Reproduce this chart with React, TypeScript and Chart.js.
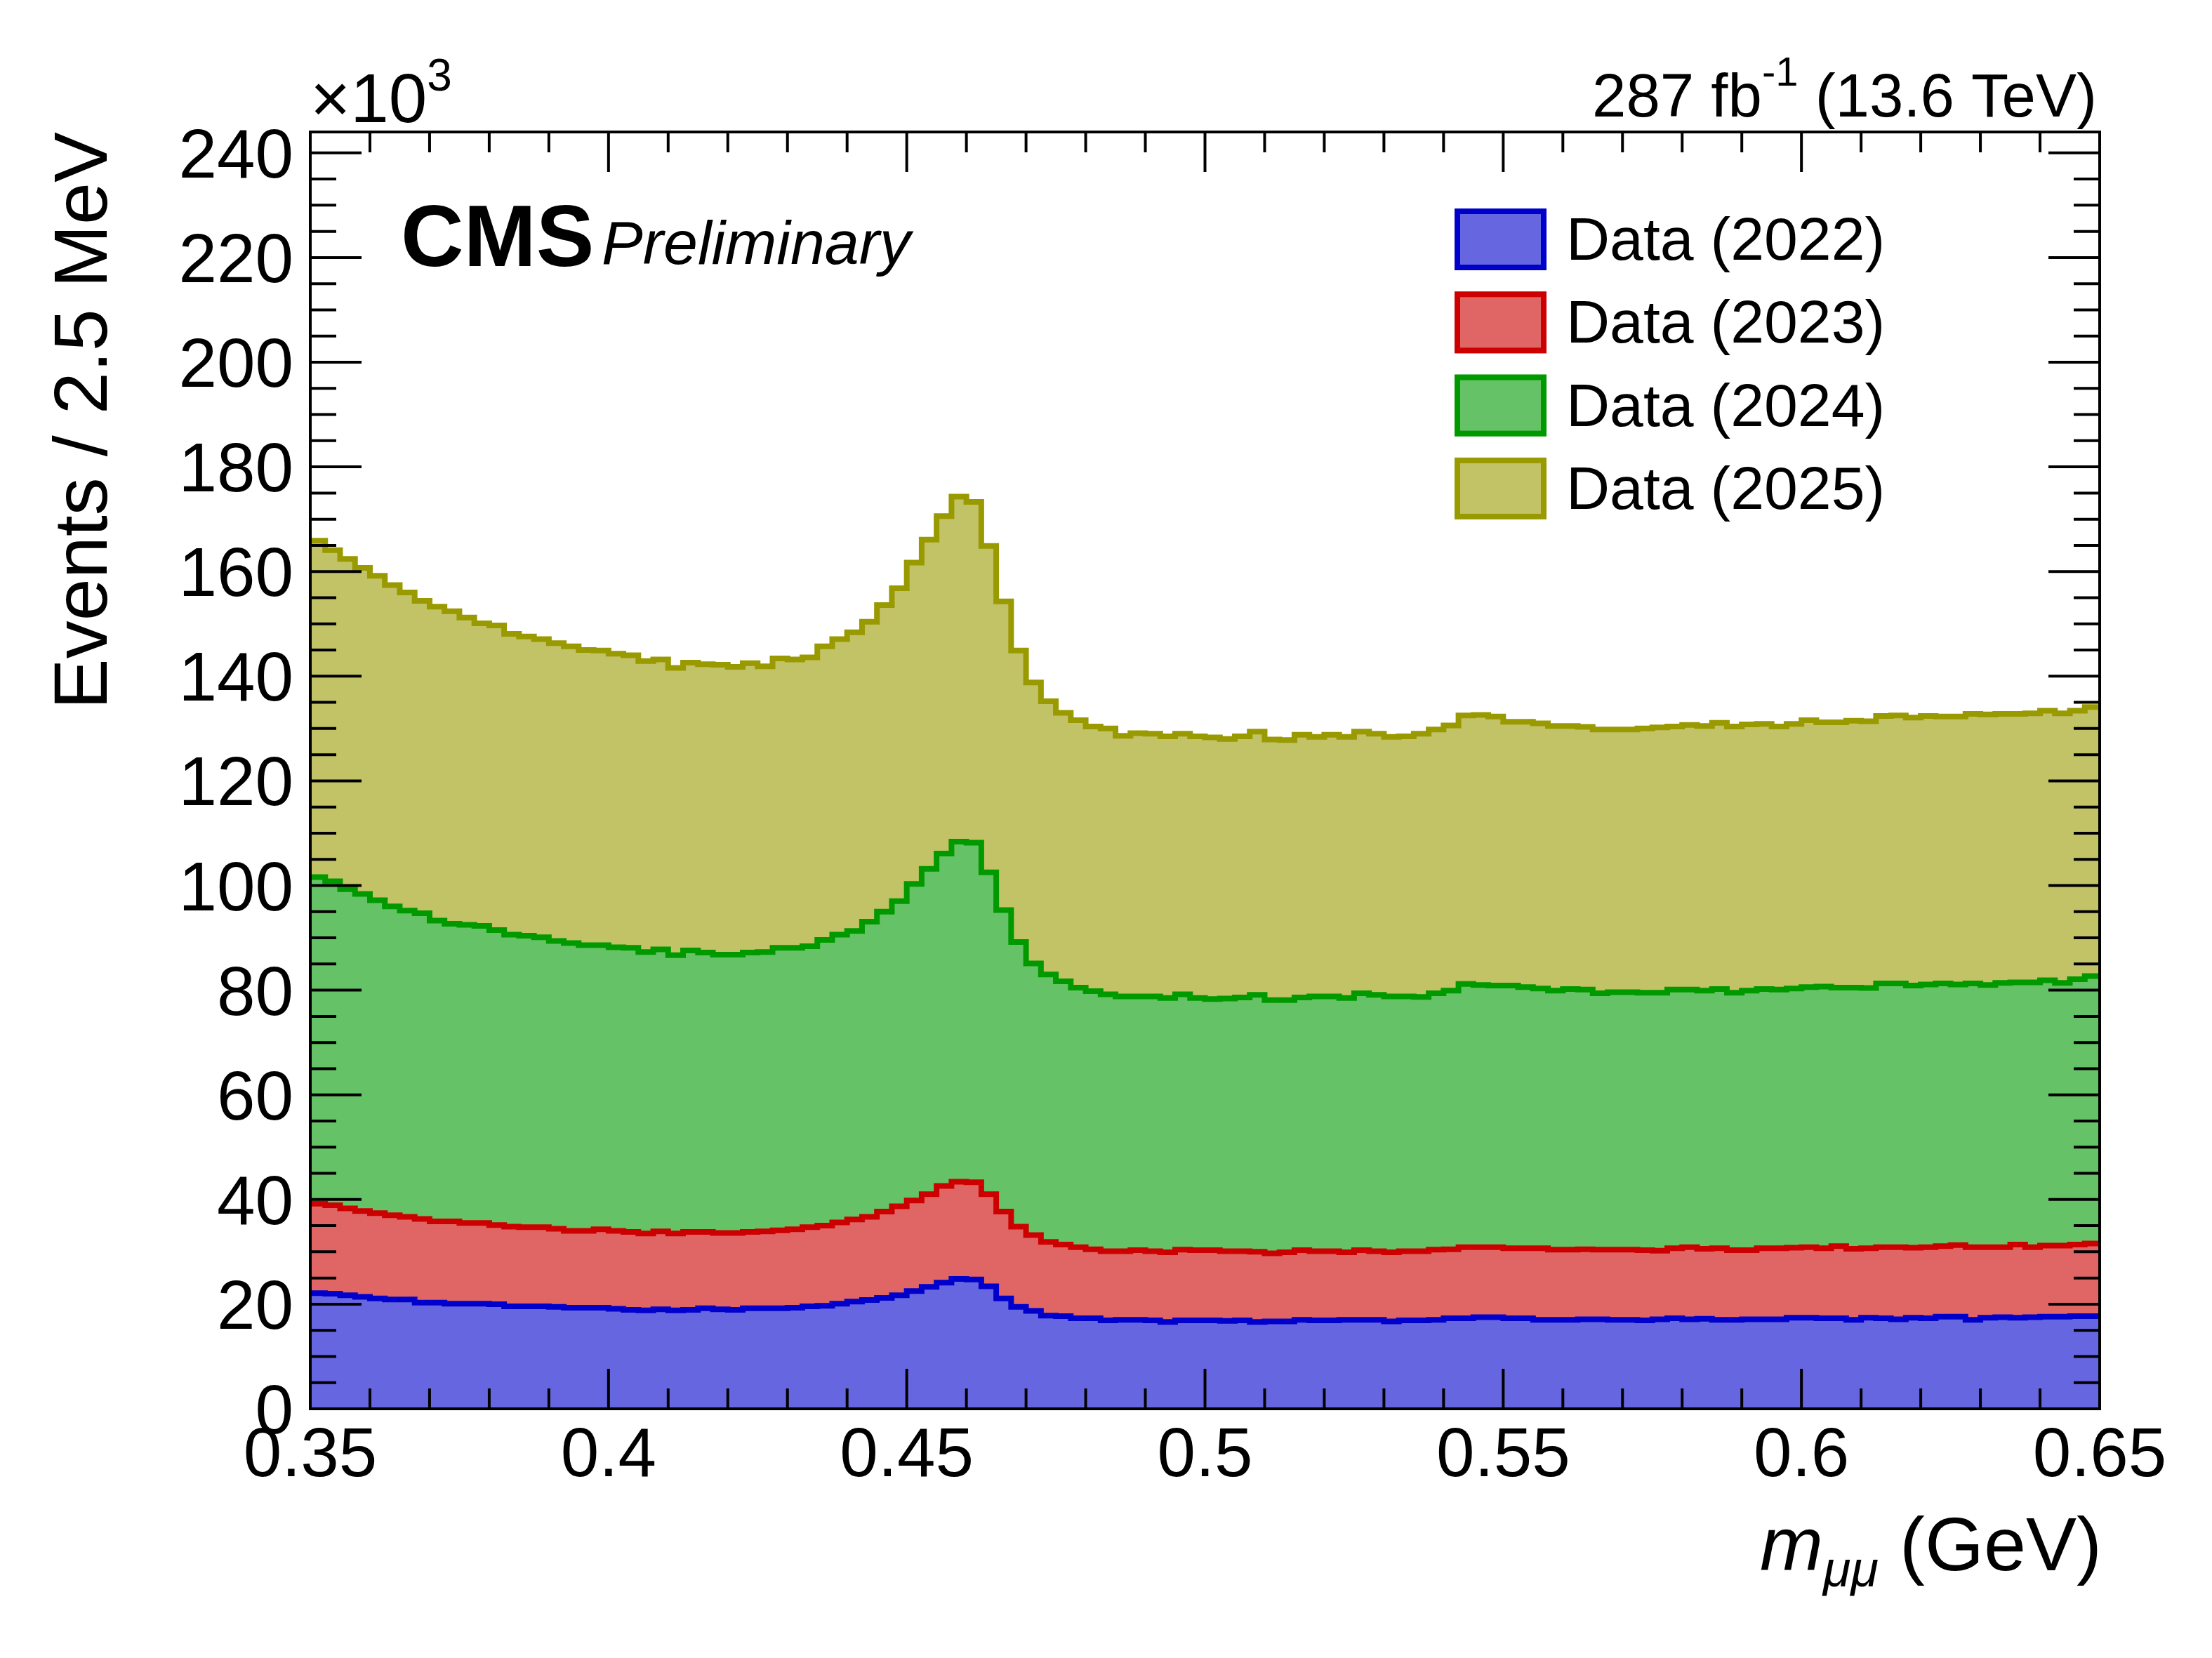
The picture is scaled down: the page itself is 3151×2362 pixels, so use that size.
import React, { useEffect, useRef } from "react";
import { Chart, registerables } from "chart.js";

Chart.register(...registerables);

const WIDTH = 3151;
const HEIGHT = 2362;
const FONT = '"Liberation Sans", Arial, Helvetica, sans-serif';

// Histogram binning: 120 bins of 2.5 MeV from 0.35 to 0.65 GeV (low edges)
const binLowEdges: number[] = Array.from({ length: 120 }, (_, i) => Number((0.35 + i * 0.0025).toFixed(4)));
const histUpperEdge = 0.65;

// Events per bin, in units of 10^3
const data2022: number[] = [
  22.1, 22.0, 21.7, 21.4, 21.1, 20.9, 20.9, 20.3, 20.3, 20.1, 20.1, 20.1, 20.0, 19.6, 19.6, 19.6, 19.5, 19.3, 19.3, 19.3,
  19.1, 18.9, 18.8, 19.0, 18.8, 18.9, 19.2, 19.0, 18.9, 19.2, 19.2, 19.2, 19.3, 19.6, 19.7, 20.1, 20.5, 20.8, 21.2, 21.7,
  22.5, 23.3, 24.1, 24.8, 24.7, 23.4, 21.1, 19.5, 18.7, 17.8, 17.7, 17.3, 17.3, 16.9, 17.0, 17.0, 16.9, 16.6, 16.9, 16.9,
  16.9, 16.8, 16.9, 16.6, 16.7, 16.7, 17.0, 16.9, 16.9, 17.0, 17.0, 17.0, 16.7, 16.9, 16.9, 17.0, 17.3, 17.3, 17.5, 17.5,
  17.3, 17.3, 17.0, 17.0, 17.0, 17.1, 17.1, 17.0, 17.0, 16.9, 17.1, 17.3, 17.1, 17.2, 17.0, 17.0, 17.1, 17.1, 17.1, 17.4,
  17.4, 17.3, 17.3, 17.0, 17.4, 17.3, 17.1, 17.4, 17.3, 17.6, 17.6, 17.0, 17.4, 17.5, 17.4, 17.5, 17.6, 17.6, 17.7, 17.7,
];
const data2023: number[] = [
  17.1, 16.9, 16.6, 16.4, 16.3, 16.1, 15.8, 16.0, 15.5, 15.7, 15.4, 15.4, 15.1, 15.2, 15.1, 15.1, 14.9, 14.7, 14.7, 15.0,
  14.9, 14.9, 14.7, 14.9, 14.7, 14.9, 14.6, 14.6, 14.7, 14.6, 14.7, 14.9, 15.0, 15.1, 15.3, 15.5, 15.7, 15.9, 16.5, 17.0,
  17.3, 17.7, 18.5, 18.6, 18.6, 17.6, 16.6, 15.3, 14.5, 14.1, 13.7, 13.6, 13.2, 13.2, 13.1, 13.3, 13.2, 13.3, 13.5, 13.4,
  13.4, 13.3, 13.2, 13.4, 13.0, 13.2, 13.3, 13.2, 13.2, 12.9, 13.3, 13.1, 13.2, 13.2, 13.2, 13.4, 13.2, 13.6, 13.4, 13.4,
  13.4, 13.4, 13.7, 13.4, 13.4, 13.4, 13.3, 13.4, 13.4, 13.4, 13.1, 13.4, 13.8, 13.4, 13.7, 13.3, 13.2, 13.6, 13.6, 13.4,
  13.5, 13.4, 13.8, 13.6, 13.3, 13.6, 13.8, 13.4, 13.6, 13.5, 13.7, 13.9, 13.5, 13.4, 14.0, 13.4, 13.6, 13.6, 13.7, 13.9,
];
const data2024: number[] = [
  62.4, 61.9, 61.0, 60.6, 59.8, 59.0, 58.5, 58.4, 57.5, 56.9, 57.0, 56.8, 56.4, 55.8, 55.7, 55.4, 55.0, 55.0, 54.6, 54.3,
  54.2, 54.3, 53.8, 53.9, 53.2, 53.8, 53.4, 53.2, 53.2, 53.4, 53.4, 54.0, 53.8, 53.7, 54.6, 55.0, 55.1, 56.4, 57.3, 58.3,
  60.5, 62.2, 63.5, 65.0, 64.9, 61.5, 57.6, 54.4, 51.9, 51.1, 50.3, 49.6, 49.3, 49.1, 48.7, 48.5, 48.7, 48.6, 48.8, 48.2,
  48.0, 48.3, 48.5, 49.1, 48.4, 48.2, 48.3, 48.7, 48.7, 48.6, 49.1, 49.0, 48.9, 48.7, 48.6, 49.0, 49.4, 50.3, 50.1, 50.0,
  50.2, 49.9, 49.6, 49.5, 49.8, 49.6, 49.0, 49.2, 49.2, 49.2, 49.3, 49.4, 49.2, 49.3, 49.5, 49.2, 49.6, 49.5, 49.4, 49.5,
  49.7, 50.0, 49.4, 49.9, 49.7, 50.4, 50.4, 50.1, 50.2, 50.2, 49.8, 50.4, 50.1, 50.5, 50.1, 50.6, 50.7, 50.2, 50.7, 51.1,
];
const data2025: number[] = [
  64.3, 63.3, 63.1, 62.3, 62.0, 61.4, 60.8, 59.7, 60.0, 59.7, 58.7, 57.8, 58.2, 57.5, 57.2, 57.0, 56.9, 56.7, 56.4, 56.3,
  56.1, 55.9, 55.6, 55.4, 54.9, 55.0, 55.1, 55.4, 55.0, 55.3, 54.6, 55.3, 55.1, 55.2, 56.1, 56.5, 57.1, 57.3, 58.6, 59.8,
  61.4, 62.9, 64.5, 65.9, 65.1, 62.4, 59.0, 55.7, 53.7, 52.2, 51.3, 51.1, 50.6, 50.8, 49.8, 50.3, 50.2, 50.0, 49.8, 50.0,
  50.0, 49.6, 49.9, 50.3, 49.8, 49.7, 50.2, 49.6, 50.0, 49.9, 50.0, 49.9, 49.6, 49.7, 50.3, 50.4, 50.7, 51.3, 51.6, 51.4,
  50.4, 50.7, 50.7, 50.6, 50.3, 50.2, 50.4, 50.2, 50.2, 50.5, 50.7, 50.3, 50.6, 50.6, 50.9, 50.9, 50.9, 50.7, 50.3, 50.6,
  51.0, 50.5, 50.7, 51.0, 51.0, 51.1, 51.2, 51.2, 51.3, 51.0, 51.2, 51.5, 51.7, 51.4, 51.3, 51.4, 51.5, 51.5, 51.3, 51.4,
];

const seriesLabels = ["Data (2022)", "Data (2023)", "Data (2024)", "Data (2025)"];
const seriesValues = [data2022, data2023, data2024, data2025];
const lineColors = ["#0000cc", "#cc0000", "#009900", "#999900"];
const fillColors = ["#6666e0", "#e06666", "#66c266", "#c2c266"];

const xMajorTicks = [0.35, 0.4, 0.45, 0.5, 0.55, 0.6, 0.65];
const xTickLabels = ["0.35", "0.4", "0.45", "0.5", "0.55", "0.6", "0.65"];
const yMajorTicks = [0, 20, 40, 60, 80, 100, 120, 140, 160, 180, 200, 220, 240];
const yTickLabels = ["0", "20", "40", "60", "80", "100", "120", "140", "160", "180", "200", "220", "240"];
const xMin = 0.35;
const xMax = 0.65;
const yMin = 0;
const yMax = 244;

function toSteps(values: number[]) {
  const pts = binLowEdges.map((x, i) => ({ x, y: values[i] }));
  pts.push({ x: histUpperEdge, y: values[values.length - 1] });
  return pts;
}

type Run = { text: string; font: string; dy: number };

function drawRuns(ctx: CanvasRenderingContext2D, runs: Run[], x: number, baseline: number, align: "left" | "right") {
  const widths = runs.map((r) => {
    ctx.font = r.font;
    return ctx.measureText(r.text).width;
  });
  const total = widths.reduce((s, w) => s + w, 0);
  let cx = align === "left" ? x : x - total;
  ctx.textAlign = "left";
  ctx.textBaseline = "alphabetic";
  runs.forEach((r, i) => {
    ctx.font = r.font;
    ctx.fillText(r.text, cx, baseline + r.dy);
    cx += widths[i];
  });
}

const rootStylePlugin = {
  id: "rootStyle",
  beforeDraw(chart: any) {
    const { ctx, width, height } = chart;
    ctx.save();
    ctx.fillStyle = "#ffffff";
    ctx.fillRect(0, 0, width, height);
    ctx.restore();
  },
  afterDatasetsDraw(chart: any) {
    const { ctx, chartArea: a, scales } = chart;
    const xs = scales.x;
    const ys = scales.y;
    ctx.save();
    ctx.strokeStyle = "#000";
    ctx.fillStyle = "#000";
    ctx.lineWidth = 4;
    ctx.lineCap = "butt";
    const seg = (x1: number, y1: number, x2: number, y2: number) => {
      ctx.beginPath();
      ctx.moveTo(x1, y1);
      ctx.lineTo(x2, y2);
      ctx.stroke();
    };
    // x ticks (major every 0.05, minor every 0.01), bottom and top, pointing inward
    for (let k = 0; k <= 30; k++) {
      const px = xs.getPixelForValue(xMin + k * 0.01);
      const len = k % 5 === 0 ? 57 : 29;
      seg(px, a.bottom, px, a.bottom - len);
      seg(px, a.top, px, a.top + len);
    }
    // y ticks (major every 20, minor every 5), left and right
    for (let v = yMin; v <= yMax; v += 5) {
      const py = ys.getPixelForValue(v);
      const len = v % 20 === 0 ? 73 : 37;
      seg(a.left, py, a.left + len, py);
      seg(a.right, py, a.right - len, py);
    }
    ctx.strokeRect(a.left, a.top, a.right - a.left, a.bottom - a.top);

    // tick labels
    ctx.font = `98px ${FONT}`;
    ctx.textAlign = "center";
    ctx.textBaseline = "alphabetic";
    xMajorTicks.forEach((v, i) => ctx.fillText(xTickLabels[i], xs.getPixelForValue(v), a.bottom + 96));
    ctx.textAlign = "right";
    yMajorTicks.forEach((v, i) => ctx.fillText(yTickLabels[i], a.left - 24, ys.getPixelForValue(v) + 35));

    // x10^3 exponent
    drawRuns(
      ctx,
      [
        { text: "\u00d710", font: `98px ${FONT}`, dy: 0 },
        { text: "3", font: `64px ${FONT}`, dy: -45 },
      ],
      a.left,
      a.top - 14,
      "left"
    );

    // y axis title
    ctx.save();
    ctx.translate(152, a.top);
    ctx.rotate(-Math.PI / 2);
    ctx.font = `108px ${FONT}`;
    ctx.textAlign = "right";
    ctx.textBaseline = "alphabetic";
    ctx.fillText("Events / 2.5 MeV", 0, 0);
    ctx.restore();

    // x axis title
    drawRuns(
      ctx,
      [
        { text: "m", font: `italic 108px ${FONT}`, dy: 0 },
        { text: "\u03bc\u03bc", font: `italic 72px ${FONT}`, dy: 23 },
        { text: " (GeV)", font: `108px ${FONT}`, dy: 0 },
      ],
      a.right + 3,
      2237,
      "right"
    );

    // luminosity label
    drawRuns(
      ctx,
      [
        { text: "287 fb", font: `87px ${FONT}`, dy: 0 },
        { text: "-1", font: `58px ${FONT}`, dy: -44 },
        { text: " (13.6 TeV)", font: `87px ${FONT}`, dy: 0 },
      ],
      a.right - 4,
      166,
      "right"
    );

    // CMS Preliminary
    ctx.textAlign = "left";
    ctx.font = `bold 124px ${FONT}`;
    ctx.fillText("CMS", 571, 379);
    ctx.font = `italic 88px ${FONT}`;
    ctx.fillText("Preliminary", 857, 376);

    // legend
    const legendX = 2072;
    const legendTop = 297;
    const legendPitch = 118.3;
    const boxW = 131;
    const boxH = 88;
    const lw = 8;
    chart.data.datasets.forEach((ds: any, i: number) => {
      const top = legendTop + i * legendPitch;
      ctx.fillStyle = ds.backgroundColor;
      ctx.fillRect(legendX, top, boxW, boxH);
      ctx.strokeStyle = ds.borderColor;
      ctx.lineWidth = lw;
      ctx.strokeRect(legendX + lw / 2, top + lw / 2, boxW - lw, boxH - lw);
      ctx.fillStyle = "#000";
      ctx.font = `86px ${FONT}`;
      ctx.textAlign = "left";
      ctx.fillText(ds.label, 2231, top + boxH / 2 + 29);
    });
    ctx.restore();
  },
};

export default function App() {
  const ref = useRef<HTMLCanvasElement>(null);
  useEffect(() => {
    const canvas = ref.current;
    if (!canvas) return;
    const chart = new Chart(canvas, {
      type: "line",
      data: {
        datasets: seriesValues.map((vals, i) => ({
          label: seriesLabels[i],
          data: toSteps(vals),
          stepped: "before" as const,
          borderColor: lineColors[i],
          backgroundColor: fillColors[i],
          borderWidth: 8,
          borderJoinStyle: "miter" as const,
          pointRadius: 0,
          pointHoverRadius: 0,
          fill: "origin",
          tension: 0,
        })),
      },
      options: {
        animation: false,
        responsive: false,
        devicePixelRatio: 1,
        events: [],
        layout: { padding: { left: 442, top: 188, right: WIDTH - 2991, bottom: HEIGHT - 2007 } },
        plugins: {
          legend: { display: false },
          tooltip: { enabled: false },
          title: { display: false },
        },
        scales: {
          x: { type: "linear", min: xMin, max: xMax, display: false },
          y: { type: "linear", min: yMin, max: yMax, stacked: true, display: false },
        },
      },
      plugins: [rootStylePlugin as any],
    } as any);
    return () => chart.destroy();
  }, []);
  return (
    <div style={{ position: "absolute", left: 0, top: 0, width: WIDTH, height: HEIGHT, background: "#fff" }}>
      <canvas ref={ref} width={WIDTH} height={HEIGHT} style={{ width: WIDTH, height: HEIGHT, display: "block" }} />
    </div>
  );
}
